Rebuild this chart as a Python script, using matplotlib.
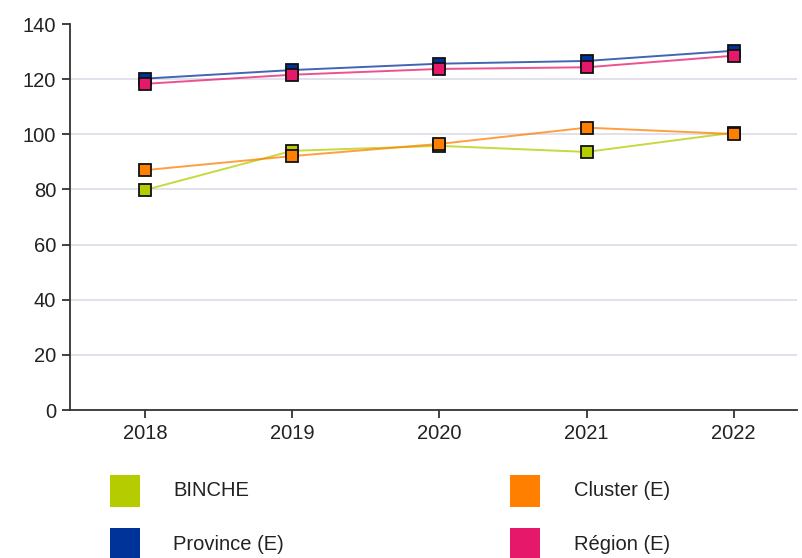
import matplotlib
matplotlib.use("Agg")
import matplotlib.pyplot as plt
from matplotlib.patches import Rectangle

plt.rcParams['font.family'] = ['Liberation Sans', 'DejaVu Sans']

YEARS = [2018, 2019, 2020, 2021, 2022]
SERIES = ['BINCHE', 'Cluster (E)', 'Province (E)', 'Région (E)']
BINCHE = [79.8, 94.0, 95.8, 93.6, 100.6]
CLUSTER = [87.0, 92.1, 96.5, 102.4, 100.1]
PROVINCE = [120.2, 123.3, 125.6, 126.6, 130.3]
REGION = [118.3, 121.6, 123.7, 124.3, 128.5]
COLORS = ['#b5cc00', '#ff7f00', '#003399', '#e5186a']
Y_TICKS = [0, 20, 40, 60, 80, 100, 120, 140]

W, H = 803, 558
fig = plt.figure(figsize=(W / 100, H / 100), dpi=100)
# axes box in pixels: left 70, right 797, top 24, bottom 410
ax = fig.add_axes([70 / W, 1 - 410 / H, (797 - 70) / W, (410 - 24) / H])

for name, vals, col in zip(SERIES, [BINCHE, CLUSTER, PROVINCE, REGION], COLORS):
    ax.plot(YEARS, vals, color=col, lw=1.4, alpha=0.75, zorder=3)
    ax.plot(YEARS, vals, ls='none', marker='s', ms=8.8, mfc=col,
            mec='#111111', mew=1.3, zorder=4)

ax.set_ylim(0, 140)
ax.set_xlim(2017.49, 2022.43)
ax.set_yticks(Y_TICKS)
ax.set_xticks(YEARS)
ax.set_xticklabels([str(y) for y in YEARS])
for y in Y_TICKS[1:-1]:
    ax.axhline(y, color='#dcdce8', lw=1.2, zorder=1)

for s in ['top', 'right']:
    ax.spines[s].set_visible(False)
for s in ['left', 'bottom']:
    ax.spines[s].set_color('#333333')
    ax.spines[s].set_linewidth(1.3)
ax.tick_params(direction='out', length=6, width=1.3, color='#333333',
               labelsize=14.5, labelcolor='#222222', pad=4)

# legend, 2 columns x 2 rows
col_x = [110, 510]
text_x = [173, 574]
row_y = [491, 544]
for i, (name, col) in enumerate(zip(SERIES, COLORS)):
    c, r = i % 2, i // 2
    x0 = col_x[c]
    yc = row_y[r]
    fig.patches.append(Rectangle((x0 / W, 1 - (yc + 16) / H), 30 / W, 32 / H,
                                 transform=fig.transFigure, facecolor=col,
                                 edgecolor='none'))
    fig.text(text_x[c] / W, 1 - yc / H, name, ha='left', va='center',
             fontsize=14.5, color='#222222')

fig.savefig('out.png', dpi=100)
